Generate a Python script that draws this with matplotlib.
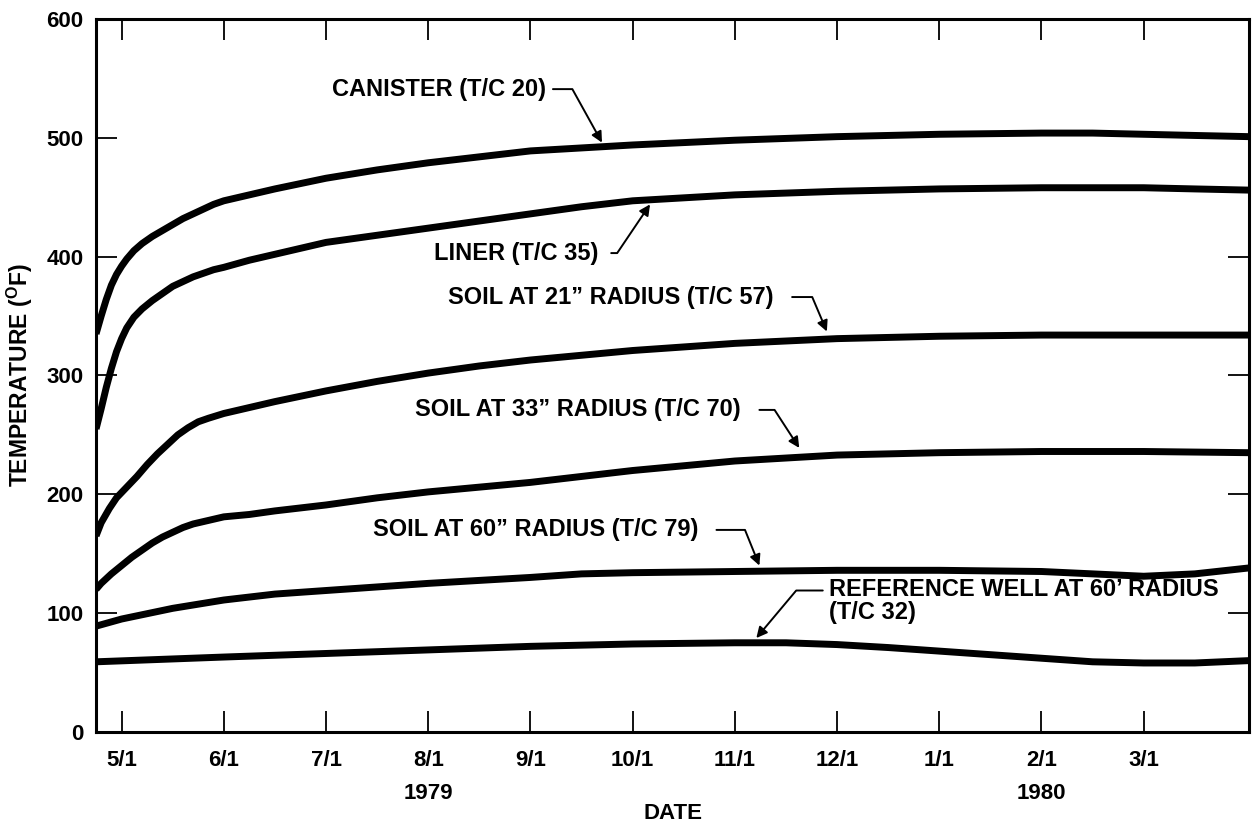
import matplotlib
matplotlib.use("Agg")
import matplotlib.pyplot as plt

plt.rcParams['font.family'] = ['Liberation Sans', 'DejaVu Sans']
plt.rcParams['font.weight'] = 'bold'
plt.rcParams['mathtext.fontset'] = 'custom'
plt.rcParams['mathtext.rm'] = 'Liberation Sans:bold'
plt.rcParams['mathtext.bf'] = 'Liberation Sans:bold'

# x = months after 5/1/1979
month_ticks = [0, 1, 2, 3, 4, 5, 6, 7, 8, 9, 10]
month_labels = ['5/1', '6/1', '7/1', '8/1', '9/1', '10/1', '11/1', '12/1', '1/1', '2/1', '3/1']
year_labels = ['1979', '1980']
year_pos = [3, 9]

# curves (temperature, deg F)
canister_x = [-0.25, -0.2, -0.15, -0.1, -0.05, 0.0, 0.05, 0.12, 0.2, 0.3, 0.4, 0.5, 0.6, 0.7,
              0.8, 0.9, 1.0, 1.25, 1.5, 2.0, 2.5, 3.0, 3.5, 4.0, 5.0, 6.0, 7.0, 8.0, 9.0,
              9.5, 10.0, 10.5, 11.03]
canister_t = [335, 350, 364, 376, 385, 392, 398, 405, 411, 417, 422, 427, 432, 436,
              440, 444, 447, 452, 457, 466, 473, 479, 484, 489, 494, 498, 501, 503, 504,
              504, 503, 502, 501]

liner_x = [-0.25, -0.2, -0.15, -0.1, -0.05, 0.0, 0.05, 0.12, 0.2, 0.3, 0.4, 0.5, 0.6, 0.7,
           0.8, 0.9, 1.0, 1.25, 1.5, 2.0, 2.5, 3.0, 3.5, 4.0, 4.5, 5.0, 6.0, 7.0, 8.0, 9.0,
           10.0, 10.5, 11.03]
liner_t = [255, 272, 290, 306, 320, 331, 340, 349, 356, 363, 369, 375, 379, 383,
           386, 389, 391, 397, 402, 412, 418, 424, 430, 436, 442, 447, 452, 455, 457, 458,
           458, 457, 456]

soil21_x = [-0.25, -0.2, -0.12, -0.05, 0.05, 0.15, 0.25, 0.35, 0.45, 0.55, 0.65, 0.75, 0.85,
            1.0, 1.25, 1.5, 2.0, 2.5, 3.0, 3.5, 4.0, 5.0, 6.0, 7.0, 8.0, 9.0, 10.0, 11.03]
soil21_t = [165, 176, 188, 197, 206, 215, 225, 234, 242, 250, 256, 261, 264,
            268, 273, 278, 287, 295, 302, 308, 313, 321, 327, 331, 333, 334, 334, 334]

soil33_x = [-0.25, -0.2, -0.1, 0.0, 0.1, 0.2, 0.3, 0.4, 0.5, 0.6, 0.7, 0.8, 0.9, 1.0, 1.25,
            1.5, 2.0, 2.5, 3.0, 3.5, 4.0, 4.5, 5.0, 6.0, 7.0, 8.0, 9.0, 10.0, 11.03]
soil33_t = [120, 125, 133, 140, 147, 153, 159, 164, 168, 172, 175, 177, 179, 181, 183,
            186, 191, 197, 202, 206, 210, 215, 220, 228, 233, 235, 236, 236, 235]

soil60_x = [-0.25, 0.0, 0.5, 1.0, 1.5, 2.0, 3.0, 4.0, 4.5, 5.0, 6.0, 7.0, 8.0, 9.0, 9.5,
            10.0, 10.5, 11.03]
soil60_t = [89, 95, 104, 111, 116, 119, 125, 130, 133, 134, 135, 136, 136, 135, 133,
            131, 133, 138]

ref_x = [-0.25, 1.0, 2.0, 3.0, 4.0, 5.0, 6.0, 6.5, 7.0, 7.5, 8.0, 8.5, 9.0, 9.5, 10.0,
         10.5, 11.03]
ref_t = [59, 63, 66, 69, 72, 74, 75, 75, 73.5, 71, 68, 65, 62, 59, 58, 58, 60]

fig = plt.figure(figsize=(12.54, 8.27), dpi=100)
ax = fig.add_axes([0.0766, 0.115, 0.9194, 0.862])

for xs, ts in [(canister_x, canister_t), (liner_x, liner_t), (soil21_x, soil21_t),
               (soil33_x, soil33_t), (soil60_x, soil60_t), (ref_x, ref_t)]:
    ax.plot(xs, ts, color='black', lw=5, solid_capstyle='butt', solid_joinstyle='round')

ax.set_xlim(-0.25, 11.03)
ax.set_ylim(0, 600)
ax.set_xticks(month_ticks)
ax.set_xticklabels(month_labels)
ax.set_yticks([0, 100, 200, 300, 400, 500, 600])
ax.tick_params(axis='both', direction='in', top=True, right=True, length=15, width=1.3,
               labelsize=16)
ax.tick_params(axis='x', pad=13)
ax.tick_params(axis='y', pad=9)
for s in ax.spines.values():
    s.set_linewidth(2.2)

for lab, p in zip(year_labels, year_pos):
    ax.text(p, -0.086, lab, transform=ax.get_xaxis_transform(), ha='center', va='center',
            fontsize=16, fontweight='bold')
ax.set_xlabel('DATE', fontsize=16, fontweight='bold', labelpad=23)
ax.set_ylabel(r'TEMPERATURE ($^{\mathbf{O}}$F)', fontsize=16.5, fontweight='bold', labelpad=8)

# labels with leader arrows
labels = [
    ('CANISTER (T/C 20)', (2.06, 541), (4.22, 541), (4.70, 496), -61),
    ('LINER (T/C 35)', (3.06, 403), (4.79, 403), (5.17, 444), 56),
    ('SOIL AT 21" RADIUS (T/C 57)', (3.19, 366), (6.56, 366), (6.90, 337), -67),
    ('SOIL AT 33" RADIUS (T/C 70)', (2.87, 271), (6.24, 271), (6.63, 239), -57),
    ('SOIL AT 60" RADIUS (T/C 79)', (2.46, 170), (5.82, 170), (6.24, 140), -68),
]
for txt, tpos, apos, target, ang in labels:
    ax.text(tpos[0], tpos[1], txt.replace('"', '\u201d'), ha='left', va='center',
            fontsize=17, fontweight='bold')
    ax.annotate('', xy=target, xytext=apos,
                arrowprops=dict(arrowstyle='-|>', color='black', lw=1.4, mutation_scale=16,
                                shrinkA=0, shrinkB=0,
                                connectionstyle='angle,angleA=0,angleB=%d,rad=0' % ang))

ax.text(6.92, 110, "REFERENCE WELL AT 60\u2019 RADIUS\n(T/C 32)", ha='left', va='center',
        fontsize=17, fontweight='bold', linespacing=1.0)
ax.annotate('', xy=(6.21, 79), xytext=(6.86, 119),
            arrowprops=dict(arrowstyle='-|>', color='black', lw=1.4, mutation_scale=16,
                            shrinkA=0, shrinkB=0,
                            connectionstyle='angle,angleA=0,angleB=50,rad=0'))

fig.savefig('out.png', dpi=100)
